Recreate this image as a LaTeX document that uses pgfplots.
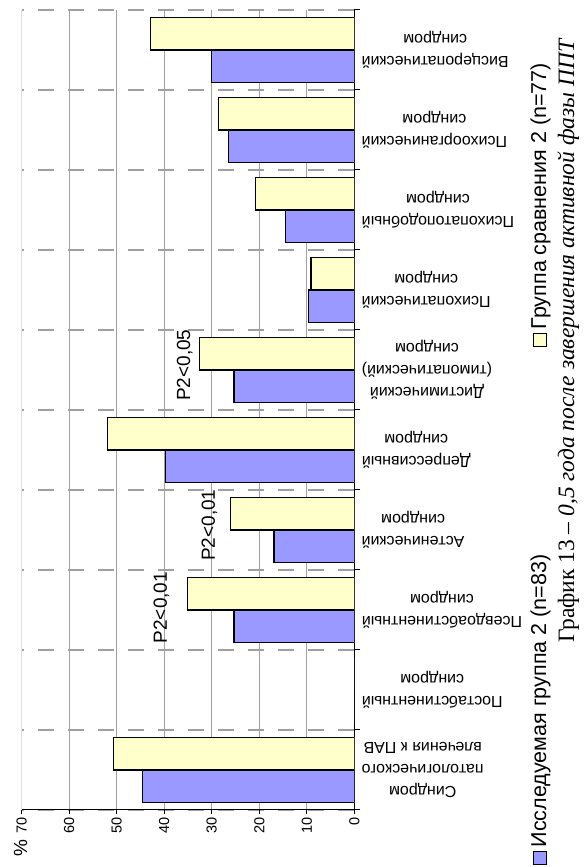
\documentclass[border=0pt]{standalone}
\usepackage{fontspec}
\setmainfont{Liberation Sans}
\newfontfamily\titlefont{Liberation Serif}
\usepackage{pgfplots}
\pgfplotsset{compat=1.18}
\definecolor{blueC}{HTML}{9999FF}
\definecolor{yelC}{HTML}{FFFFCC}
\definecolor{gridC}{HTML}{A0A0A0}
\setlength{\fboxsep}{0pt}
\setlength{\fboxrule}{1pt}
\begin{document}
\begin{tikzpicture}[x=1pt,y=1pt]
\path[use as bounding box] (0,0) rectangle (584,867);
\begin{axis}[
  at={(21.7pt,57pt)}, anchor=south west,
  scale only axis, width=332.6pt, height=800pt,
  xbar, x dir=reverse,
  xmin=0, xmax=70, ymin=-0.5, ymax=9.5,
  axis y line*=right,
  x axis line style={draw=none},
  y axis line style={-, line width=1.2pt, black},
  xtick pos=bottom,
  xtick={0,10,...,60},
  extra x ticks={70},
  extra x tick style={major x grid style={gray!25, line width=0.8pt}},
  tick align=outside,
  major tick length=4pt, minor tick length=6pt,
  tick style={black, line width=1pt},
  xticklabel style={rotate=90, anchor=east, font=\fontsize{14.5}{16}\selectfont},
  /pgf/number format/assume math mode=true,
  xmajorgrids, major x grid style={gridC, line width=1.2pt},
  ytick={0,...,9},
  major y tick style={draw=none},
  minor ytick={-0.5,0.5,...,9.5},
  yminorgrids, minor y grid style={gridC, line width=1.2pt, dash pattern=on 16pt off 14pt},
  yticklabel style={rotate=180, anchor=east, align=center, font=\fontsize{16}{22}\selectfont},
  yticklabels={{Синдром\\патологического\\влечения к ПАВ},
               {Постабстинентный\\синдром},
               {Псевдоабстинентный\\синдром},
               {Астенический\\синдром},
               {Депрессивный\\синдром},
               {Дистимический\\(тимопатический)\\синдром},
               {Психопатический\\синдром},
               {Психопатоподобный\\синдром},
               {Психоорганический\\синдром},
               {Висцеропатический\\синдром}},
  bar width=32.8pt,
]
% Исследуемая группа 2 (n=83)
\addplot[xbar, bar shift=-16.4pt, fill=blueC, draw=black, line width=1.2pt] coordinates {
  (44.6,0) (0,1) (25.3,2) (16.9,3) (39.8,4) (25.3,5) (9.6,6) (14.5,7) (26.5,8) (30.1,9)};
% Группа сравнения 2 (n=77)
\addplot[xbar, bar shift=16.4pt, fill=yelC, draw=black, line width=1.2pt] coordinates {
  (50.6,0) (0,1) (35.1,2) (26.0,3) (51.9,4) (32.5,5) (9.1,6) (20.8,7) (28.6,8) (42.9,9)};
\draw[black, line width=1.2pt] (axis cs:70,-0.5) -- (axis cs:0,-0.5);
\node[rotate=90, anchor=south, inner sep=0pt, font=\fontsize{19}{21}\selectfont] at (axis cs:38.9,2.03) {P2<0,01};
\node[rotate=90, anchor=south, inner sep=0pt, font=\fontsize{19}{21}\selectfont] at (axis cs:28.8,3.06) {P2<0,01};
\node[rotate=90, anchor=south, inner sep=0pt, font=\fontsize{19}{21}\selectfont] at (axis cs:34.0,5.06) {P2<0,05};
\end{axis}
\node[rotate=90, font=\fontsize{19}{21}\selectfont] at (20.5,18.5) {\%};
\node[rotate=90, anchor=base west, inner sep=0pt, font=\fontsize{21.5}{24}\selectfont] at (546,2)
  {\fcolorbox{black}{blueC}{\rule{0pt}{12pt}\rule{12pt}{0pt}}\,Исследуемая группа 2 (n=83)};
\node[rotate=90, anchor=base west, inner sep=0pt, font=\fontsize{21.5}{24}\selectfont] at (546,520)
  {\fcolorbox{black}{yelC}{\rule{0pt}{12pt}\rule{12pt}{0pt}}\,Группа сравнения 2 (n=77)};
\node[rotate=90, anchor=base west, inner sep=0pt, font=\titlefont\fontsize{23.5}{26}\selectfont] at (574,224)
  {График 13 – \textit{0,5 года после завершения активной фазы ППТ}};
\end{tikzpicture}
\end{document}
